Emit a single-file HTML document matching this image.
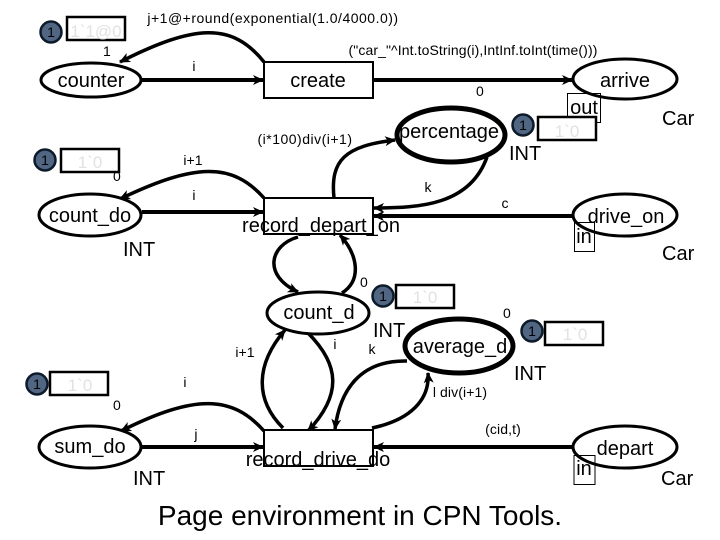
<!DOCTYPE html>
<html><head><meta charset="utf-8"><style>
html,body{margin:0;padding:0;background:#fff}
svg{display:block}
text{font-family:"Liberation Sans",sans-serif;fill:#000}
.e{fill:#fff;stroke:#000;stroke-width:3}
.b{fill:none;stroke:#000;stroke-width:5}
.r{fill:#fff;stroke:#000;stroke-width:2}
.a{fill:none;stroke:#000;stroke-width:3.5}
.s{fill:none;stroke:#000;stroke-width:4}
.t{fill:#506683;stroke:#0d1a2a;stroke-width:2.5}
.n{font-size:20px}
.l{font-size:14px;letter-spacing:.1px}
.m{font-size:20px}
.tk{font-size:14px}
.g{font-size:17px;fill:#e2e2e2}
.box{fill:#fff;stroke:#000;stroke-width:2.5}
.p{fill:none;stroke:#000;stroke-width:1}
</style></head><body>
<svg width="720" height="540" viewBox="0 0 720 540" xmlns="http://www.w3.org/2000/svg">
<defs><marker id="h" markerWidth="12" markerHeight="10" refX="10" refY="5" orient="auto" markerUnits="userSpaceOnUse"><path d="M0 0L11 5L0 10L3 5Z" fill="#000"/></marker></defs>

<path class="a" d="M264 62C232 22 195 24 120 62" marker-end="url(#h)"/>
<path class="s" d="M141 80H263" marker-end="url(#h)"/>
<path class="s" d="M373 80H572" marker-end="url(#h)"/>
<path class="a" d="M264 198C232 162 195 163 120 199" marker-end="url(#h)"/>
<path class="s" d="M142 212H263" marker-end="url(#h)"/>
<path class="a" d="M334 198C330 160 345 146 395 140" marker-end="url(#h)"/>
<path class="a" d="M487 157C470 205 420 208 374 208" marker-end="url(#h)"/>
<path class="s" d="M573 216H374" marker-end="url(#h)"/>
<path class="a" d="M298 237C270 245 262 275 298 292" marker-end="url(#h)"/>
<path class="a" d="M342 293C362 280 358 255 340 235" marker-end="url(#h)"/>
<path class="a" d="M283 428C255 400 255 365 285 330" marker-end="url(#h)"/>
<path class="a" d="M308 333C340 365 342 395 308 431" marker-end="url(#h)"/>
<path class="a" d="M407 361C360 360 340 390 335 429" marker-end="url(#h)"/>
<path class="a" d="M372 428C410 420 430 400 428 373" marker-end="url(#h)"/>
<path class="a" d="M264 431C232 395 195 394 121 431" marker-end="url(#h)"/>
<path class="s" d="M142 447H263" marker-end="url(#h)"/>
<path class="s" d="M573 447H374" marker-end="url(#h)"/>

<ellipse class="e" cx="91" cy="80" rx="50" ry="17"/>
<rect class="r" x="264" y="62" width="109" height="36"/>
<ellipse class="e" cx="625" cy="79" rx="52" ry="20"/>
<ellipse class="b" cx="451" cy="135" rx="54" ry="27"/>
<ellipse class="e" cx="90" cy="215" rx="51" ry="21"/>
<rect class="r" x="264" y="198" width="109" height="36"/>
<ellipse class="e" cx="625" cy="215" rx="52" ry="21"/>
<ellipse class="e" cx="318" cy="313" rx="51" ry="21"/>
<ellipse class="b" cx="459" cy="346" rx="54" ry="27"/>
<ellipse class="e" cx="90" cy="447" rx="51" ry="21"/>
<rect class="r" x="264" y="430" width="109" height="36"/>
<ellipse class="e" cx="625" cy="447" rx="52" ry="21"/>

<rect class="p" x="567.5" y="93.5" width="33" height="29"/>
<rect class="p" x="574.5" y="222.5" width="20" height="29"/>
<rect class="p" x="574" y="455.5" width="21" height="29"/>

<circle class="t" cx="51" cy="32" r="10.5"/><rect class="box" x="67" y="17" width="58" height="23"/>
<circle class="t" cx="45" cy="160" r="10.5"/><rect class="box" x="61" y="149" width="58" height="23"/>
<circle class="t" cx="523" cy="125" r="10.5"/><rect class="box" x="538" y="117" width="58" height="23"/>
<circle class="t" cx="383" cy="296" r="10.5"/><rect class="box" x="396" y="285" width="58" height="23"/>
<circle class="t" cx="532" cy="331" r="10.5"/><rect class="box" x="545" y="322" width="58" height="23"/>
<circle class="t" cx="37" cy="384" r="10.5"/><rect class="box" x="50" y="372" width="58" height="23"/>

<g text-anchor="middle">
<text class="tk" x="51" y="37">1</text><text class="tk" x="45" y="165">1</text><text class="tk" x="523" y="130">1</text>
<text class="tk" x="383" y="301">1</text><text class="tk" x="532" y="336">1</text><text class="tk" x="37" y="389">1</text>
</g>
<g text-anchor="middle">
<text class="g" x="96" y="37">1`1@0</text><text class="g" x="90" y="168">1`0</text><text class="g" x="567" y="137">1`0</text>
<text class="g" x="425" y="303">1`0</text><text class="g" x="575" y="340">1`0</text><text class="g" x="80" y="391">1`0</text>
</g>

<g text-anchor="middle">
<text class="n" x="91" y="87">counter</text>
<text class="n" x="318" y="87">create</text>
<text class="n" x="625" y="87">arrive</text>
<text class="n" x="449" y="138">percentage</text>
<text class="n" x="90" y="222">count_do</text>
<text class="n" x="321" y="232">record_depart_on</text>
<text class="n" x="626" y="223">drive_on</text>
<text class="n" x="319" y="319">count_d</text>
<text class="n" x="460" y="353">average_d</text>
<text class="n" x="90" y="453">sum_do</text>
<text class="n" x="318" y="466">record_drive_do</text>
<text class="n" x="625" y="455">depart</text>
<text class="n" x="584" y="114">out</text>
<text class="n" x="584" y="243">in</text>
<text class="n" x="584" y="475">in</text>
</g>
<g>
<text class="m" x="662" y="125">Car</text>
<text class="m" x="662" y="260">Car</text>
<text class="m" x="661" y="485">Car</text>
<text class="m" x="509" y="160">INT</text>
<text class="m" x="123" y="256">INT</text>
<text class="m" x="373" y="337">INT</text>
<text class="m" x="514" y="380">INT</text>
<text class="m" x="133" y="485">INT</text>
</g>
<g text-anchor="middle">
<text class="l" x="273" y="23" style="letter-spacing:.5px">j+1@+round(exponential(1.0/4000.0))</text>
<text class="l" x="473" y="55">("car_"^Int.toString(i),IntInf.toInt(time()))</text>
<text class="l" x="107" y="56">1</text>
<text class="l" x="194" y="71">i</text>
<text class="l" x="480" y="96">0</text>
<text class="l" x="305" y="144" style="letter-spacing:.5px">(i*100)div(i+1)</text>
<text class="l" x="193" y="165">i+1</text>
<text class="l" x="117" y="181">0</text>
<text class="l" x="194" y="200">i</text>
<text class="l" x="428" y="192">k</text>
<text class="l" x="505" y="208">c</text>
<text class="l" x="364" y="287">0</text>
<text class="l" x="507" y="318">0</text>
<text class="l" x="245" y="357">i+1</text>
<text class="l" x="335" y="349">i</text>
<text class="l" x="372" y="354">k</text>
<text class="l" x="185" y="387">i</text>
<text class="l" x="117" y="410">0</text>
<text class="l" x="460" y="397">l div(i+1)</text>
<text class="l" x="503" y="434">(cid,t)</text>
<text class="l" x="196" y="439">j</text>
</g>
<text x="360" y="525" text-anchor="middle" font-size="28">Page environment in CPN Tools.</text>
</svg>
</body></html>
